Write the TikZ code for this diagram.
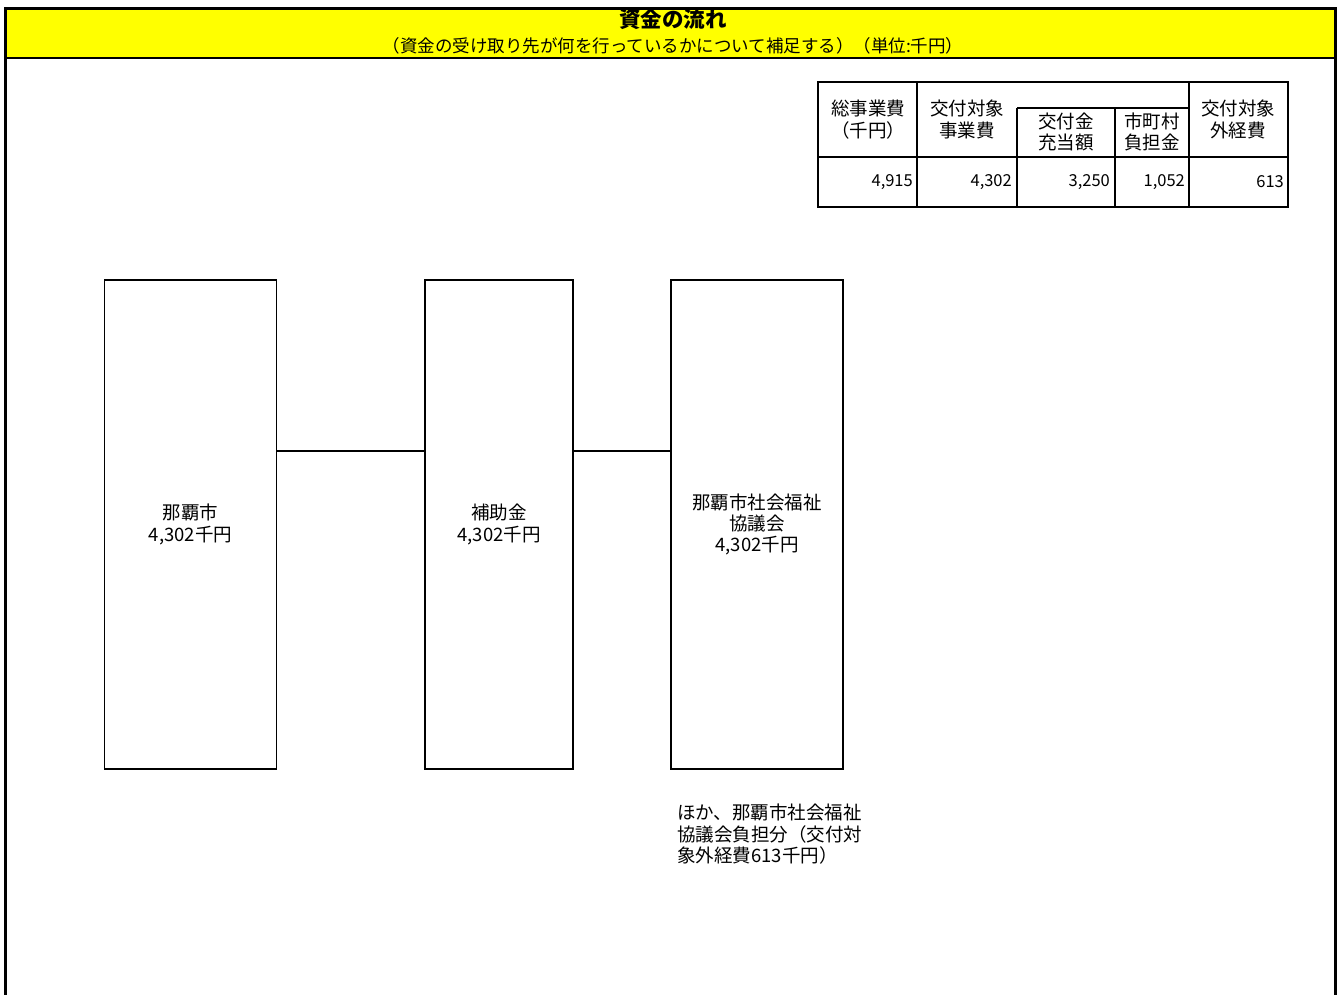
\documentclass[tikz,border=0pt]{standalone}
\usepackage{fontspec}
\setmainfont{Noto Sans CJK JP}
\definecolor{hdryellow}{RGB}{255,255,0}
\begin{document}
\begin{tikzpicture}[x=1pt,y=-1pt,
  boxtxt/.style={font=\fontsize{18.5}{21.3}\selectfont,align=center},
  flowbox/.style={draw,line width=1.8pt,inner sep=0pt,boxtxt},
  tline/.style={line width=1.6pt},
  thead/.style={font=\fontsize{18.5}{21.5}\selectfont,align=center,inner sep=0pt},
  tnum/.style={font=\fontsize{16.5}{20}\selectfont,anchor=east,inner sep=0pt},
  conn/.style={line width=1.8pt}]
\useasboundingbox (0,0) rectangle (1338,995);
% header
\fill[hdryellow] (7,10) rectangle (1334,57);
\draw[line width=3.5pt] (5.5,995) -- (5.5,8.5) -- (1335.5,8.5) -- (1335.5,995);
\draw[line width=2.5pt] (7,58) -- (1334,58);
\node[font=\fontsize{21.5}{22}\selectfont\bfseries,inner sep=0pt] (title) at (673,19) {資金の流れ};
\node[font=\fontsize{17.5}{18}\selectfont,inner sep=0pt] (subtitle) at (673,46) {（資金の受け取り先が何を行っているかについて補足する）（単位:千円）};
% table
\draw[tline] (818,82) rectangle (1288,207);
\draw[tline] (818,157) -- (1288,157);
\draw[tline] (917,82) -- (917,207);
\draw[tline] (1017,108) -- (1017,207);
\draw[tline] (1115,108) -- (1115,207);
\draw[tline] (1189,82) -- (1189,207);
\draw[tline] (1017,108) -- (1189,108);
\node[thead] (h1) at (868,119.5) {総事業費\\（千円）};
\node[thead] (h2) at (967,119.5) {交付対象\\事業費};
\node[thead] (h3) at (1066,132) {交付金\\充当額};
\node[thead] (h4) at (1152,132) {市町村\\負担金};
\node[thead] (h5) at (1238,119.5) {交付対象\\外経費};
\node[tnum] (v1) at (913,182) {4,915};
\node[tnum] (v2) at (1012,182) {4,302};
\node[tnum] (v3) at (1110,182) {3,250};
\node[tnum] (v4) at (1185,182) {1,052};
\node[tnum] (v5) at (1284,182) {613};
% flow boxes
\node[flowbox,minimum width=172pt,minimum height=489pt] (b1) at (190.5,524.5) {那覇市\\4,302千円};
\node[flowbox,minimum width=148pt,minimum height=489pt] (b2) at (499,524.5) {補助金\\4,302千円};
\node[flowbox,minimum width=172pt,minimum height=489pt] (b3) at (757,524.5) {那覇市社会福祉\\協議会\\4,302千円};
\draw[conn] ([yshift=73.8pt]b1.east) -- ([yshift=73.8pt]b2.west);
\draw[conn] ([yshift=73.8pt]b2.east) -- ([yshift=73.8pt]b3.west);
% note
\node[font=\fontsize{18.5}{21.5}\selectfont,align=left,anchor=west,inner sep=0pt] (note) at (677,834.5) {ほか、那覇市社会福祉\\協議会負担分（交付対\\象外経費613千円）};
\end{tikzpicture}
\end{document}
